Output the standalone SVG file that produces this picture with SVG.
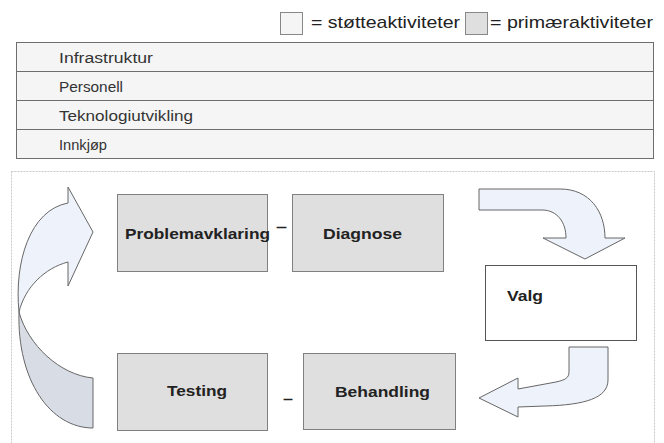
<svg xmlns="http://www.w3.org/2000/svg" width="664" height="443" viewBox="0 0 664 443">
<style>
  .row { fill: #f5f5f5; stroke: #6e6e6e; stroke-width: 1; }
  .rowtxt { font-family: "Liberation Sans", Arial, sans-serif; font-size: 14px; fill: #333333; }
  .leg { font-family: "Liberation Sans", Arial, sans-serif; font-size: 17px; fill: #222222; }
  .box { fill: #dfdfdf; stroke: #808080; stroke-width: 1; }
  .wbox { fill: #ffffff; stroke: #555555; stroke-width: 1; }
  .lbl { font-family: "Liberation Sans", Arial, sans-serif; font-size: 15px; font-weight: bold; fill: #222222; }
  .arr { fill: #eef3fb; stroke: #666666; stroke-width: 1; stroke-linejoin: round; }
  .arrback { fill: #d8dce5; stroke: #666666; stroke-width: 1; stroke-linejoin: round; }
</style>

<g id="legend">
  <rect x="280.5" y="12.5" width="22" height="22" fill="#f5f5f5" stroke="#888888"/>
  <text class="leg" x="311" y="28" textLength="149" lengthAdjust="spacingAndGlyphs">= støtteaktiviteter</text>
  <rect x="465.5" y="12.5" width="22" height="22" fill="#dfdfdf" stroke="#888888"/>
  <text class="leg" x="490" y="28" textLength="163" lengthAdjust="spacingAndGlyphs">= primæraktiviteter</text>
</g>

<g id="support">
  <g id="row-infrastruktur">
    <rect class="row" x="16.5" y="42.5" width="637" height="29"/>
    <text class="rowtxt" x="59" y="63" textLength="94" lengthAdjust="spacingAndGlyphs">Infrastruktur</text>
  </g>
  <g id="row-personell">
    <rect class="row" x="16.5" y="71.5" width="637" height="29"/>
    <text class="rowtxt" x="59" y="92" textLength="64" lengthAdjust="spacingAndGlyphs">Personell</text>
  </g>
  <g id="row-teknologi">
    <rect class="row" x="16.5" y="100.5" width="637" height="29"/>
    <text class="rowtxt" x="59" y="121" textLength="134" lengthAdjust="spacingAndGlyphs">Teknologiutvikling</text>
  </g>
  <g id="row-innkjop">
    <rect class="row" x="16.5" y="129.5" width="637" height="29"/>
    <text class="rowtxt" x="59" y="150" textLength="48" lengthAdjust="spacingAndGlyphs">Innkjøp</text>
  </g>
</g>

<g id="container">
  <rect x="11.5" y="171.5" width="643" height="273" fill="none" stroke="#c8c8c8" stroke-width="1" stroke-dasharray="2,1"/>
</g>

<g id="connectors">
  <g id="arrow-left">
    <path class="arrback" d="M 19,312 C 17,380 50,428 93,428 L 93,378 C 60,375 28,345 19,312 Z"/>
    <path class="arr" d="M 68,203 L 68,187 L 93,232 L 68,286 L 68,262 C 45,268 25,287 19,312 C 14,262 30,210 68,203 Z"/>
  </g>
  <path id="arrow-top-right" class="arr" d="M 479,189 L 560,189 C 590,189 605,212 605,238 L 625,238 L 585,259 L 543,238 L 566,238 C 566,222 557,210 542,210 L 479,210 Z"/>
  <path id="arrow-bottom-right" class="arr" d="M 569,347 L 608,347 L 608,380 C 608,398 585,405 545,406 L 518,407 L 518,417 L 479,398 L 518,378 L 518,389 L 556,382 C 565,380 569,378 569,372 Z"/>
  <text class="lbl" x="276" y="232" textLength="11" lengthAdjust="spacingAndGlyphs">–</text>
  <text class="lbl" x="283" y="404" textLength="10" lengthAdjust="spacingAndGlyphs">–</text>
</g>

<g id="node-problemavklaring">
  <rect class="box" x="117.5" y="194.5" width="150" height="77"/>
  <text class="lbl" x="125" y="239" textLength="145" lengthAdjust="spacingAndGlyphs">Problemavklaring</text>
</g>
<g id="node-diagnose">
  <rect class="box" x="292.5" y="194.5" width="151" height="77"/>
  <text class="lbl" x="323" y="239" textLength="79" lengthAdjust="spacingAndGlyphs">Diagnose</text>
</g>
<g id="node-valg">
  <rect class="wbox" x="485.5" y="265.5" width="151" height="75"/>
  <text class="lbl" x="507" y="301" textLength="36" lengthAdjust="spacingAndGlyphs">Valg</text>
</g>
<g id="node-behandling">
  <rect class="box" x="303.5" y="353.5" width="152" height="76"/>
  <text class="lbl" x="335" y="397" textLength="95" lengthAdjust="spacingAndGlyphs">Behandling</text>
</g>
<g id="node-testing">
  <rect class="box" x="117.5" y="353.5" width="150" height="77"/>
  <text class="lbl" x="167" y="396" textLength="60" lengthAdjust="spacingAndGlyphs">Testing</text>
</g>
</svg>
